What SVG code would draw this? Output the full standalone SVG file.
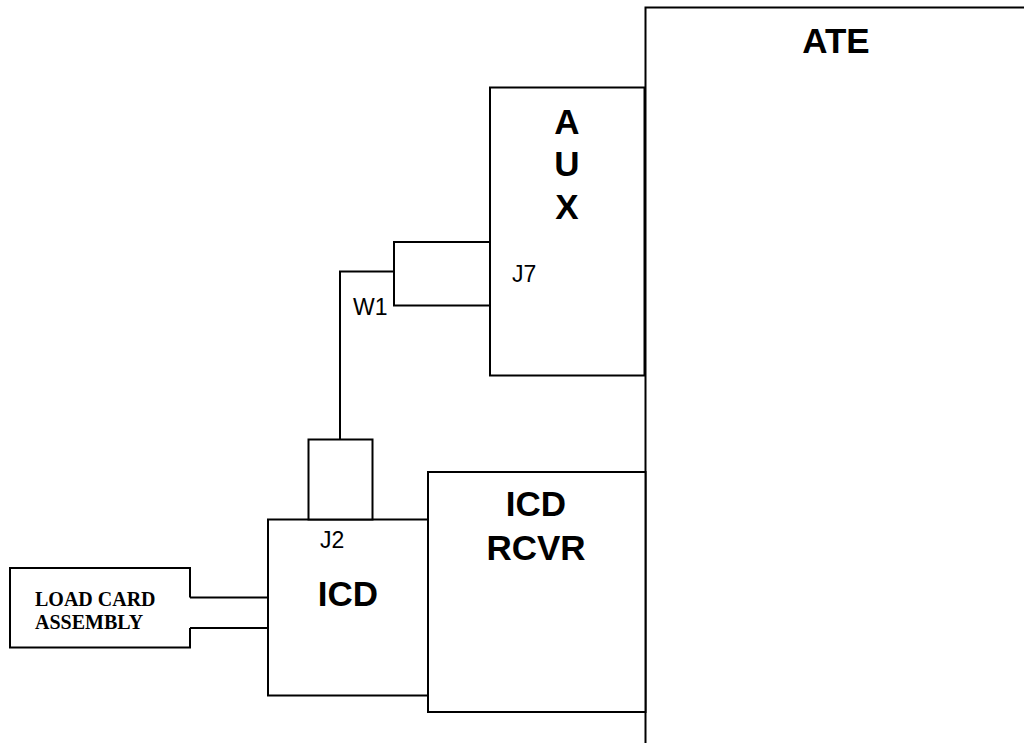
<svg xmlns="http://www.w3.org/2000/svg" width="1024" height="743" viewBox="0 0 1024 743">
<style>
.box{fill:#fff;stroke:#000;stroke-width:2}
.ln{fill:none;stroke:#000;stroke-width:2}
.big{font-family:"Liberation Sans",Arial,sans-serif;font-weight:bold;font-size:35px;fill:#000;text-anchor:middle}
.sm{font-family:"Liberation Sans",Arial,sans-serif;font-size:23px;fill:#000}
.tm{font-family:"Liberation Serif","Times New Roman",serif;font-weight:bold;font-size:20px;fill:#000}
</style>
<rect width="1024" height="743" fill="#fff"/>
<g id="ate">
<path class="ln" d="M645.5,743 V7.5 H1024"/>
<text class="big" x="836" y="53">ATE</text>
</g>
<g id="aux">
<rect class="box" x="490" y="87.5" width="154.5" height="288"/>
<text class="big" x="567" y="134">A</text>
<text class="big" x="567" y="176">U</text>
<text class="big" x="567" y="219">X</text>
<text class="sm" x="512" y="282">J7</text>
</g>
<g id="j7">
<rect class="box" x="394" y="242" width="96" height="63.5"/>
</g>
<g id="icd-rcvr">
<rect class="box" x="428" y="472" width="217.5" height="240"/>
<text class="big" x="536" y="516">ICD</text>
<text class="big" x="536" y="560">RCVR</text>
</g>
<g id="icd">
<rect class="box" x="268" y="519.5" width="160" height="176"/>
<text class="sm" x="320" y="548">J2</text>
<text class="big" x="348" y="606">ICD</text>
</g>
<g id="j2">
<rect class="box" x="308.5" y="439.5" width="64" height="80"/>
</g>
<g id="load-card">
<path class="box" d="M190,597.5 V568 H10 V647.5 H190 V628"/>
<text class="tm" x="35" y="606">LOAD CARD</text>
<text class="tm" x="35" y="629">ASSEMBLY</text>
</g>
<g id="connectors">
<polyline class="ln" points="394,271.5 340,271.5 340,439.5"/>
<line class="ln" x1="190" y1="597.5" x2="268" y2="597.5"/>
<line class="ln" x1="190" y1="628" x2="268" y2="628"/>
<text class="sm" x="353" y="315">W1</text>
</g>
</svg>
